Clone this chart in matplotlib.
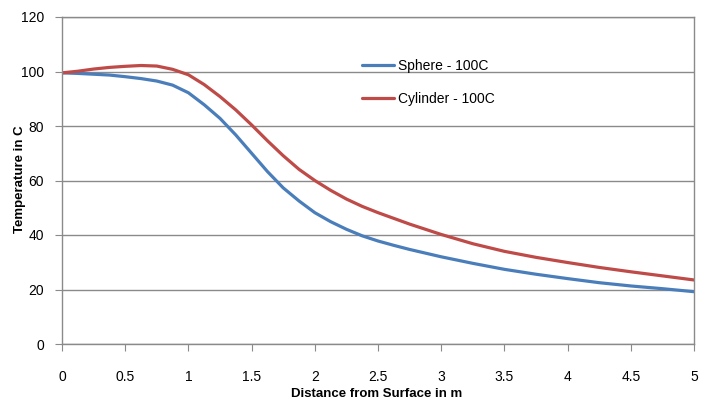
import matplotlib
matplotlib.use("Agg")
import matplotlib.pyplot as plt

plt.rcParams['font.family'] = ['Liberation Sans', 'DejaVu Sans']

distance = [0, 0.125, 0.25, 0.375, 0.5, 0.625, 0.75, 0.875, 1.0, 1.125, 1.25, 1.375,
            1.5, 1.625, 1.75, 1.875, 2.0, 2.125, 2.25, 2.375, 2.5, 2.625, 2.75, 3.0,
            3.25, 3.5, 3.75, 4.0, 4.25, 4.5, 4.75, 5.0]
sphere = [99.5, 99.3, 99.0, 98.7, 98.1, 97.4, 96.5, 95.0, 92.2, 87.8, 82.8, 76.7,
          70.0, 63.3, 57.3, 52.5, 48.2, 44.9, 42.1, 39.7, 37.8, 36.2, 34.7, 32.0,
          29.6, 27.4, 25.6, 24.0, 22.5, 21.3, 20.3, 19.2]
cylinder = [99.5, 100.1, 100.9, 101.5, 101.9, 102.2, 102.0, 100.8, 98.8, 95.2, 90.8, 85.9,
            80.4, 74.6, 69.1, 64.1, 60.0, 56.4, 53.2, 50.5, 48.2, 46.1, 44.0, 40.2,
            36.8, 34.0, 31.8, 29.9, 28.1, 26.5, 25.0, 23.5]
series_labels = ["Sphere - 100C", "Cylinder - 100C"]
xticks = [0, 0.5, 1, 1.5, 2, 2.5, 3, 3.5, 4, 4.5, 5]
xticklabels = ["0", "0.5", "1", "1.5", "2", "2.5", "3", "3.5", "4", "4.5", "5"]
yticks = [0, 20, 40, 60, 80, 100, 120]

fig = plt.figure(figsize=(7.12, 4.01), dpi=100)
ax = fig.add_axes([62/712, 1-344/401, 632/712, 327/401])

ax.plot(distance, sphere, color="#4A7EBB", lw=2.3, label=series_labels[0],
        solid_capstyle="round", solid_joinstyle="round")
ax.plot(distance, cylinder, color="#BE4B48", lw=2.3, label=series_labels[1],
        solid_capstyle="round", solid_joinstyle="round")

ax.set_xlim(0, 5)
ax.set_ylim(0, 120)
ax.set_xticks(xticks)
ax.set_xticklabels(xticklabels)
ax.set_yticks(yticks)
ax.grid(axis='y', color="#8a8a8a", lw=1)
ax.set_axisbelow(True)
for s in ax.spines.values():
    s.set_color("#8a8a8a")
    s.set_linewidth(1)
ax.tick_params(axis='x', direction='out', length=5, color="#8a8a8a", pad=14, labelsize=10)
ax.tick_params(axis='y', direction='out', length=5, color="#8a8a8a", pad=8, labelsize=10)

ax.set_xlabel("Distance from Surface in m", fontweight='bold', fontsize=9.5)
ax.xaxis.set_label_coords((377-62)/632, (344-394)/327)
ax.xaxis.label.set_va('center')
ax.set_ylabel("Temperature in C", fontweight='bold', fontsize=9.5)
ax.yaxis.set_label_coords((20-62)/632, (344-179)/327)
ax.yaxis.label.set_va('center')

leg = ax.legend(loc='upper left', bbox_to_anchor=(0.4747, 0.8716), frameon=False,
                fontsize=10, borderpad=0, borderaxespad=0, handlelength=2.3,
                handletextpad=0.3, labelspacing=1.35)

fig.savefig("out.png", dpi=100)
